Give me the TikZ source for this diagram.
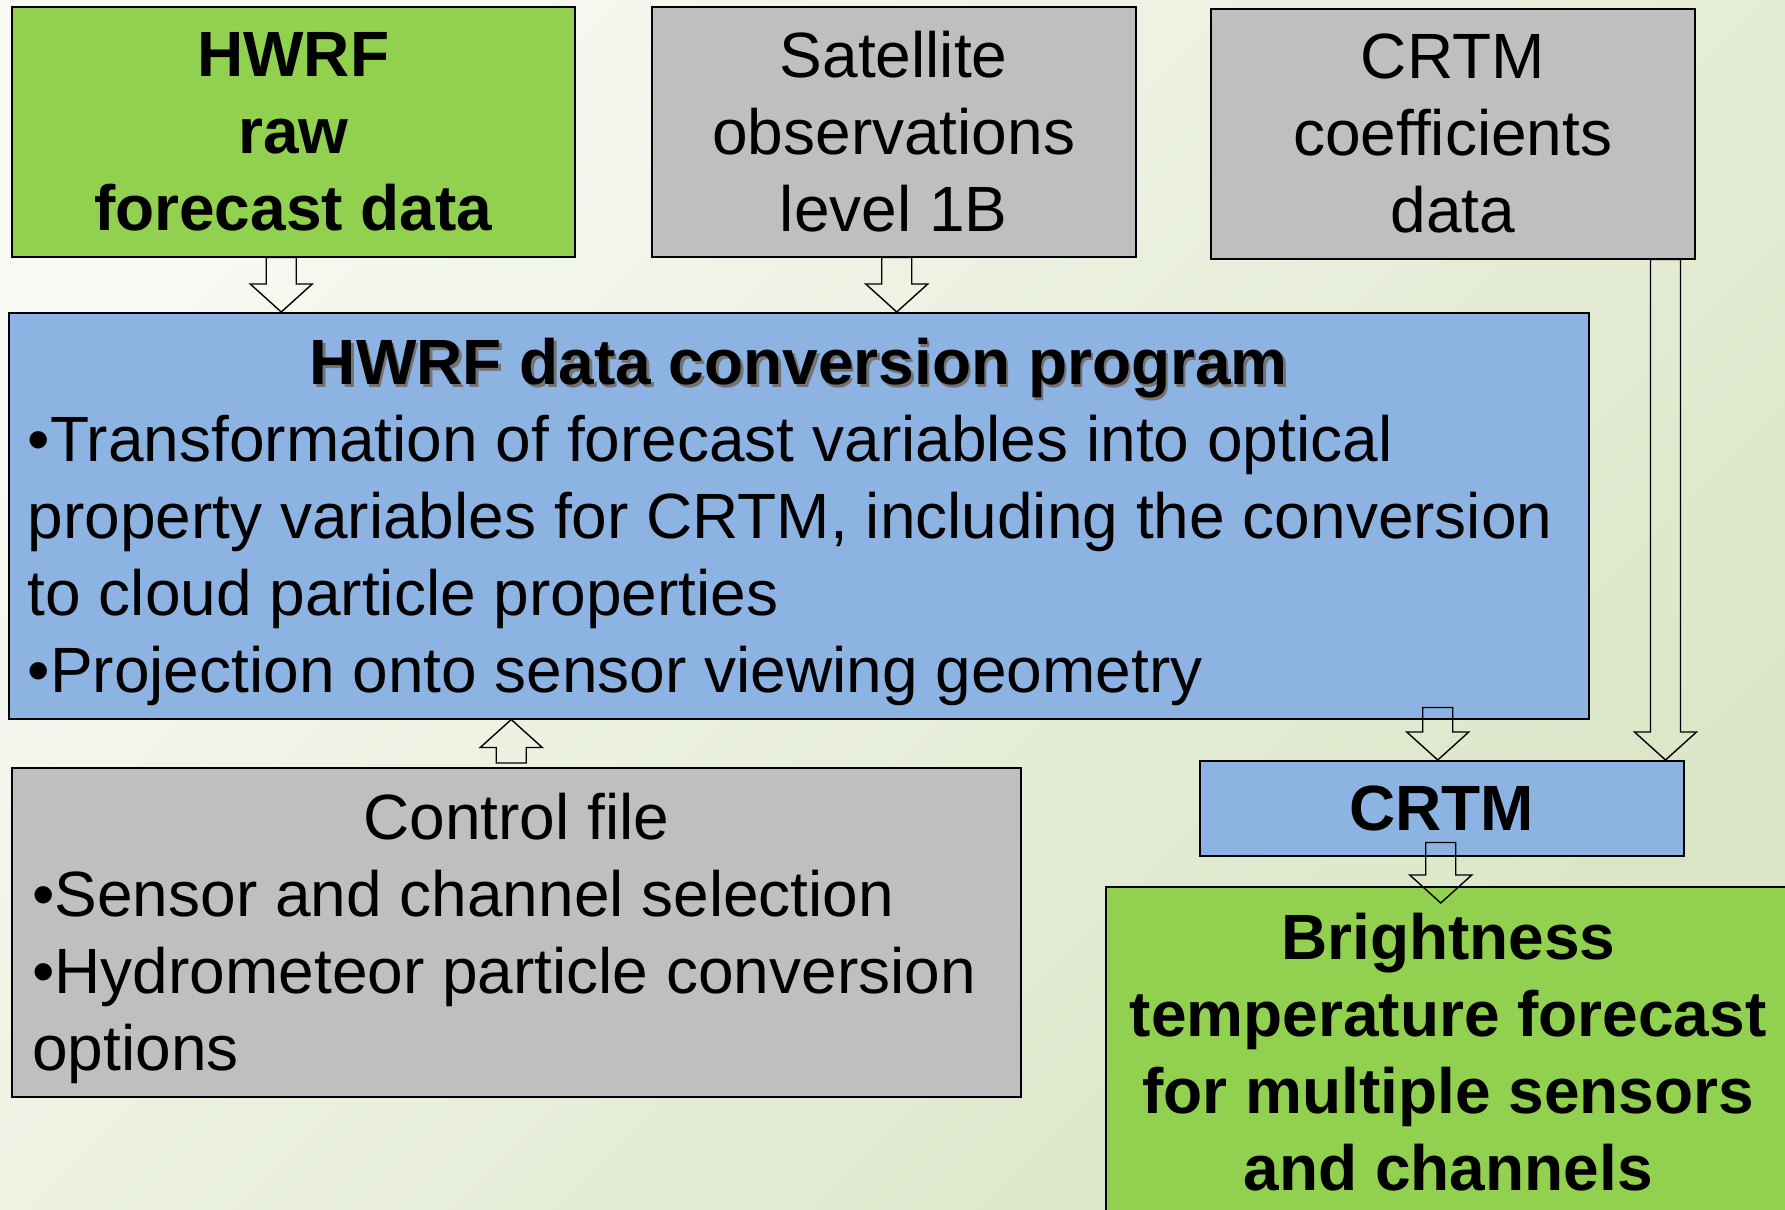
\documentclass[tikz,border=0pt]{standalone}
\usepackage{fontspec}
\setmainfont{Liberation Sans}
\usepackage{xcolor}
\usetikzlibrary{calc}
\definecolor{boxgreen}{HTML}{92D050}
\definecolor{boxgrey}{HTML}{BFBFBF}
\definecolor{boxblue}{HTML}{8DB3E2}
\definecolor{bglight}{HTML}{F8F9F3}
\definecolor{bggreen}{HTML}{DAE5C5}
% bold heading with a soft cast shadow
\newcommand{\castshadow}[1]{\rlap{\hspace{1.3pt}\raisebox{-1.4pt}{\color{black!55}#1}}#1}
% hollow vertical block arrow from #1 to the level of #2
\newcommand{\fatarrow}[2]{%
  \draw[fat] let \p1=(#1), \p2=(#2), \p3=($(\x1,\y2)!14pt!(\p1)$) in
    (\x1-7.5pt,\y1) -- (\x1-7.5pt,\y3) -- (\x1-15.5pt,\y3) -- (\x1,\y2)
    -- (\x1+15.5pt,\y3) -- (\x1+7.5pt,\y3) -- (\x1+7.5pt,\y1) -- cycle;}

\begin{document}
\begin{tikzpicture}[
    x=0.5pt, y=-0.5pt,
    txt/.style={font=\fontsize{32}{38.5}\selectfont},
    bold/.style={font=\fontsize{32}{38.5}\selectfont\bfseries},
    box/.style={draw=black, line width=0.75pt, inner sep=0pt, anchor=north west},
    fat/.style={draw=black, line width=0.7pt, line join=miter}
  ]
  \useasboundingbox (0,0) rectangle (1785,1210);
  \clip (0,0) rectangle (1785,1210);
  \shade[top color=bglight, bottom color=bggreen, shading angle=45]
    (0,0) rectangle (1785,1210);

  % inputs
  \node[box, bold, fill=boxgreen, align=center, minimum width=281.5pt, minimum height=125pt]
    (hwrf) at (11,6) {HWRF\\raw\\forecast data};
  \node[box, txt, fill=boxgrey, align=center, minimum width=242pt, minimum height=125pt]
    (sat) at (651,6) {Satellite\\observations\\level 1B};
  \node[box, txt, fill=boxgrey, align=center, minimum width=242pt, minimum height=125pt]
    (coef) at (1210,8) {CRTM\\coefficients\\data};

  % converter
  \node[box, txt, fill=boxblue, minimum width=790pt, minimum height=203pt] (conv) at (8,312) {
    \begin{tabular}{@{}p{771pt}@{}}
      \multicolumn{1}{@{}c@{}}{\rule{0pt}{34pt}\bfseries\castshadow{HWRF data conversion program}} \\
      •Transformation of forecast variables into optical \\
      property variables for CRTM, including the conversion \\
      to cloud particle properties \\
      •Projection onto sensor viewing geometry
    \end{tabular}
  };
  \node[box, txt, fill=boxgrey, minimum width=504.5pt, minimum height=164.5pt] (ctrl) at (11,767) {
    \begin{tabular}{@{}p{484pt}@{}}
      \multicolumn{1}{@{}c@{}}{\rule{0pt}{34pt}Control file} \\
      •Sensor and channel selection \\
      •Hydrometeor particle conversion \\
      options
    \end{tabular}
  };

  % radiative transfer and output
  \node[box, bold, fill=boxblue, minimum width=242pt, minimum height=47.5pt] (crtm) at (1199,760) {CRTM};
  \node[box, bold, fill=boxgreen, align=center, minimum width=342.5pt, minimum height=165pt]
    (bt) at (1105,886) {Brightness\\temperature forecast\\for multiple sensors\\and channels};

  \fatarrow{$(hwrf.south)+(-12,0)$}{conv.north}
  \fatarrow{$(sat.south)+(3,0)$}{conv.north}
  \fatarrow{$(ctrl.north)+(-5,-4)$}{conv.south}
  \fatarrow{$(crtm.north |- conv.south)+(-4,-12)$}{crtm.north}
  \fatarrow{$(coef.south east)+(-30,0)$}{crtm.north}
  \fatarrow{$(crtm.south)+(-1,-14)$}{$(bt.north)+(0,17)$}
\end{tikzpicture}
\end{document}
